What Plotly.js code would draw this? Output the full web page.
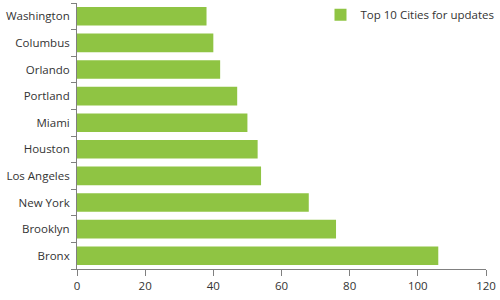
<!DOCTYPE html>
<html><head><meta charset="utf-8">
<script src="https://cdn.plot.ly/plotly-3.0.1.min.js"></script>
<style>html,body{margin:0;padding:0;background:#fff}#c{width:500px;height:300px}</style>
</head><body><div id="c"></div>
<script>
const cities = ["Bronx","Brooklyn","New York","Los Angeles","Houston","Miami","Portland","Orlando","Columbus","Washington"];
const updates = [106,76,68,54,53,50,47,42,40,38];
const seriesName = "Top 10 Cities for updates";
const xTicks = [0,20,40,60,80,100,120];

Plotly.newPlot("c", [{
  type: "bar", orientation: "h", y: cities, x: updates, name: seriesName,
  marker: {color: "#8fc443"}, showlegend: true
}], {
  width: 500, height: 300,
  margin: {l: 77, r: 14, t: 0, b: 31},
  paper_bgcolor: "#fff", plot_bgcolor: "#fff",
  font: {family: "Open Sans, sans-serif", size: 11.5, color: "#333"},
  bargap: 0.3,
  showlegend: true,
  legend: {x: 1.033, xanchor: "right", y: 1.01, yanchor: "top", itemwidth: 30, bgcolor: "rgba(0,0,0,0)", font: {size: 11.5, color: "#333"}},
  xaxis: {range: [0,120], tickvals: xTicks, showgrid: false, zeroline: false, showline: true, linecolor: "#808080", linewidth: 1, ticks: "outside", ticklen: 6, tickcolor: "#808080", fixedrange: true},
  yaxis: {type: "category", showgrid: false, zeroline: false, showline: true, linecolor: "#808080", linewidth: 1, ticks: "outside", tickson: "boundaries", ticklen: 5, tickcolor: "#808080", ticklabelstandoff: 4, fixedrange: true}
}, {staticPlot: true});
</script></body></html>
